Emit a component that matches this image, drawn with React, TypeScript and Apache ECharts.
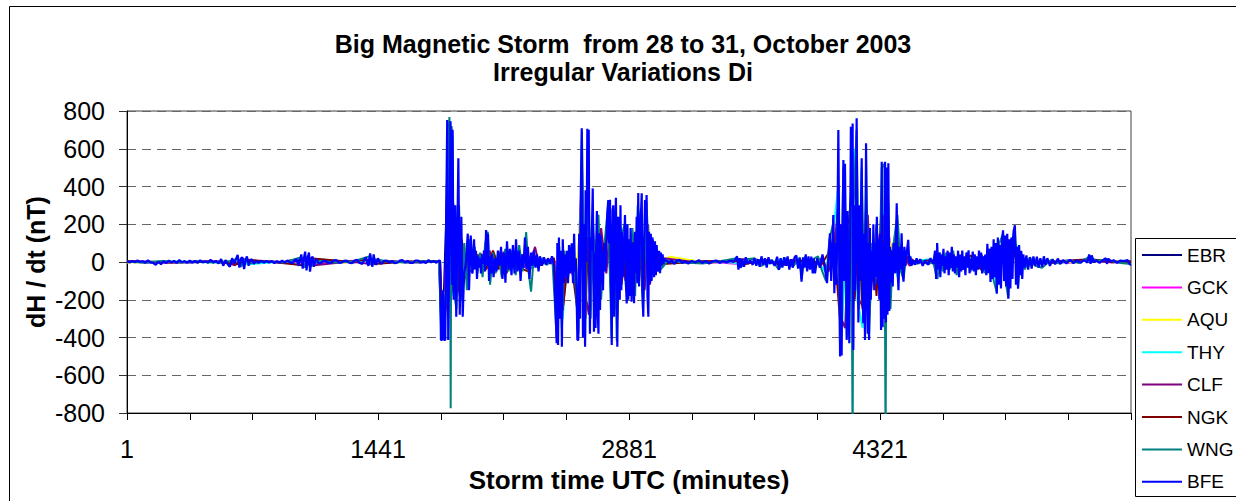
import React, { useEffect, useRef } from "react";
import * as echarts from "echarts";

// ---------- data ----------
const titleLines = ["Big Magnetic Storm  from 28 to 31, October 2003", "Irregular Variations Di"];
const yAxisTitle = "dH / dt (nT)";
const xAxisTitle = "Storm time UTC (minutes)";
const stations = ["EBR", "GCK", "AQU", "THY", "CLF", "NGK", "WNG", "BFE"];
const stationColors = ["#000080", "#FF00FF", "#FFFF00", "#00FFFF", "#800080", "#800000", "#008080", "#0000FF"];
const xTickLabels = [1, 1441, 2881, 4321]; // minute numbers shown on the x axis
const yMin = -800;
const yMax = 800;
const yStep = 200;
const xSpan = 5760; // minutes (0-based index = minute - 1)
const xTickStep = 360;

// [minute index, dH/dt in nT]
const ebr: [number, number][] = [[0,2],[120,-3],[240,4],[360,-2],[480,3],[600,-4],[640,12],[660,-10],[680,8],[720,-2],[840,3],[960,-2],[1020,20],[1035,-18],[1050,15],[1070,-8],[1180,2],[1300,-3],[1395,15],[1410,-8],[1430,6],[1550,2],[1680,-2],[1790,3],
  [1802,-300],[1815,-250],[1830,200],[1840,600],[1850,-200],[1858,500],[1870,-100],[1885,200],[1900,-150],[1915,150],[1930,-120],[1950,60],[1970,-50],
  [1990,40],[2010,-30],[2030,20],[2050,-40],[2070,60],[2090,-20],[2110,30],[2130,-40],[2150,50],[2170,-50],[2190,40],[2210,-30],[2230,50],[2250,-40],[2270,30],[2290,40],[2310,-50],[2330,20],[2350,-10],[2380,10],[2410,-5],[2440,10],
  [2470,-200],[2490,-150],[2510,40],[2530,-60],[2550,50],[2570,-40],[2590,-200],[2610,400],[2625,-200],[2645,400],[2660,-150],[2680,100],[2700,-120],[2720,60],[2740,-40],[2760,150],[2780,-200],[2800,120],[2815,-200],[2830,100],[2850,-60],[2870,-100],[2890,80],[2910,-100],[2930,150],[2950,120],[2965,-150],[2980,150],[3000,-60],[3020,40],[3040,-30],[3060,20],[3080,-5],
  [3120,3],[3240,-2],[3360,4],[3480,-3],[3520,-15],[3560,10],[3620,-8],[3680,12],[3740,-15],[3800,-15],[3860,10],[3900,-20],[3940,5],
  [3960,-10],[3990,15],[4020,-40],[4040,60],[4060,-60],[4080,300],[4092,-300],[4110,250],[4130,-200],[4150,300],[4165,-250],[4185,350],[4200,-150],[4215,250],[4235,-200],[4250,200],[4265,-100],[4285,80],[4300,-60],[4320,60],[4330,250],[4340,-150],[4350,250],[4365,-150],[4380,30],[4400,-40],[4418,120],[4440,-20],[4460,20],[4480,-5],
  [4520,5],[4570,-5],[4620,3],
  [4640,-30],[4660,25],[4680,-30],[4700,30],[4720,-25],[4740,35],[4760,-30],[4780,20],[4800,-25],[4820,25],[4840,-30],[4860,20],[4880,-20],[4900,25],[4920,-30],[4940,40],[4960,-40],[4980,50],[4995,-80],[5010,50],[5030,80],[5050,-90],[5070,60],[5090,90],[5110,-60],[5130,30],[5150,-15],
  [5200,8],[5260,-8],[5340,5],[5430,-3],[5520,15],[5540,2],[5620,8],[5700,2],[5760,-5]];

const gck: [number, number][] = [[0,2],[200,-3],[400,3],[600,-2],[650,10],[670,-8],[800,2],[1000,-5],[1030,15],[1050,-12],[1200,3],[1400,10],[1420,-6],[1600,2],[1790,0],
  [1805,-250],[1825,-200],[1840,450],[1855,-150],[1870,300],[1890,-120],[1910,100],[1935,-80],[1960,50],[1985,-30],
  [2010,30],[2040,-40],[2070,50],[2100,-30],[2130,40],[2160,-50],[2190,30],[2220,-20],[2250,40],[2280,-30],[2310,30],[2340,-20],[2380,10],[2420,-5],[2455,5],
  [2470,-150],[2495,-200],[2520,30],[2550,-40],[2580,-150],[2605,350],[2625,-150],[2645,300],[2665,-100],[2690,80],[2715,-100],[2740,60],[2765,200],[2785,-150],[2805,150],[2820,-180],[2845,60],[2870,-80],[2895,60],[2920,-70],[2935,200],[2960,-120],[2980,200],[3005,-60],[3030,40],[3060,-20],[3085,5],
  [3200,2],[3400,-3],[3530,-12],[3600,8],[3700,-5],[3760,10],[3850,-10],[3900,15],[3945,-5],
  [3980,15],[4020,-50],[4050,80],[4082,250],[4095,-250],[4120,200],[4140,-150],[4160,250],[4180,-120],[4195,200],[4220,-150],[4245,250],[4270,-80],[4300,50],[4330,200],[4345,-150],[4370,150],[4400,-30],[4430,40],[4470,-10],[4510,5],
  [4600,-5],[4650,20],[4700,-25],[4750,20],[4800,-20],[4850,25],[4900,-25],[4950,30],[4990,-60],[5030,60],[5060,-80],[5095,80],[5120,-40],[5150,10],
  [5250,5],[5400,-4],[5525,12],[5600,3],[5700,-3],[5760,0]];

const aqu: [number, number][] = [[0,-2],[250,3],[500,-3],[640,10],[680,-12],[850,2],[1020,-15],[1045,20],[1250,-3],[1400,12],[1425,-8],[1650,3],[1792,-1],
  [1808,-200],[1830,-150],[1846,350],[1862,-100],[1880,250],[1900,-120],[1920,-51],[1945,80],[1970,-40],
  [2000,25],[2035,-30],[2065,45],[2095,-25],[2125,35],[2155,-45],[2185,30],[2215,-25],[2245,35],[2275,-20],[2305,25],[2340,-15],[2390,8],[2440,-5],
  [2468,-120],[2490,-180],[2515,20],[2545,-30],[2575,-100],[2606,300],[2628,-180],[2648,250],[2668,-80],[2695,60],[2720,-80],[2750,50],[2770,150],[2790,-120],[2810,120],[2830,-150],[2855,50],[2880,-60],[2905,40],[2930,150],[2955,-100],[2975,180],[3000,-50],[3030,30],[3060,-15],[3080,10],[3115,28],
  [3300,0],[3450,3],[3540,-10],[3650,6],[3780,-8],[3880,12],[3950,5],
  [3990,10],[4030,-40],[4060,60],[4085,200],[4097,-200],[4118,150],[4137,70],[4160,300],[4186,-7],[4210,150],[4235,-120],[4255,180],[4280,-60],[4310,40],[4332,180],[4350,-120],[4372,120],[4405,-25],[4440,30],[4480,-8],[4520,4],
  [4620,-4],[4680,18],[4740,-20],[4800,15],[4860,-20],[4920,20],[4970,-40],[5000,-60],[5035,50],[5065,-60],[5090,80],[5125,-30],[5160,8],
  [5300,5],[5450,-3],[5525,10],[5640,4],[5760,2]];

const thy: [number, number][] = [[0,0],[300,3],[560,-4],[660,15],[690,-12],[900,2],[1010,-20],[1055,18],[1300,-2],[1410,15],[1500,-3],[1700,2],[1794,3],
  [1812,-320],[1835,-120],[1850,550],[1866,-180],[1885,220],[1905,-160],[1925,90],[1950,-60],[1975,40],
  [2005,-20],[2040,40],[2075,-35],[2105,45],[2140,-30],[2175,50],[2205,-40],[2235,30],[2265,-30],[2295,35],[2325,-25],[2360,15],[2400,-10],[2450,5],
  [2475,-250],[2500,-300],[2525,50],[2560,-60],[2585,-200],[2612,450],[2630,-250],[2642,500],[2660,-120],[2685,90],[2712,-150],[2735,80],[2770,250],[2782,-250],[2805,200],[2815,-250],[2840,80],[2865,-150],[2890,100],[2912,-120],[2935,250],[2960,-200],[2978,260],[3005,-70],[3035,50],[3060,-30],[3090,0],
  [3250,3],[3480,-2],[3510,-15],[3580,10],[3690,-8],[3750,15],[3850,-12],[3920,10],[3945,0],
  [3975,-15],[4015,-60],[4045,100],[4080,400],[4100,-400],[4125,100],[4145,30],[4160,400],[4170,600],[4190,-200],[4220,-350],[4240,400],[4258,-300],[4285,120],[4310,-100],[4330,25],[4348,350],[4360,420],[4375,-150],[4400,50],[4420,-80],[4450,60],[4490,-10],[4540,5],
  [4600,15],[4650,-30],[4710,30],[4770,-40],[4830,30],[4890,-35],[4950,40],[4990,-120],[5020,100],[5056,-150],[5085,100],[5100,100],[5130,-40],[5160,10],
  [5300,-3],[5400,5],[5525,12],[5650,3],[5760,-5]];

const clf: [number, number][] = [[0,5],[280,-3],[540,4],[620,-18],[650,12],[880,-2],[1030,25],[1048,-20],[1280,2],[1400,-10],[1415,8],[1620,-2],[1796,5],
  [1810,-350],[1828,-250],[1856,500],[1872,-160],[1895,-180],[1915,140],[1940,-90],[1960,120],[1985,-40],
  [2015,40],[2045,-50],[2080,60],[2115,-40],[2145,60],[2178,-60],[2210,50],[2240,-30],[2270,40],[2300,-40],[2341,80],[2365,-20],[2405,10],[2445,-10],
  [2472,-300],[2500,-250],[2530,40],[2565,-50],[2595,-250],[2608,300],[2635,-200],[2650,-280],[2675,150],[2700,-120],[2720,180],[2750,-60],[2773,200],[2800,-250],[2820,150],[2838,-120],[2860,100],[2880,-150],[2900,150],[2925,-100],[2945,180],[2970,-150],[2990,200],[3000,-120],[3025,50],[3050,-40],[3080,20],
  [3300,-5],[3460,4],[3515,15],[3600,15],[3720,-10],[3820,12],[3950,-10],
  [3985,20],[4025,-50],[4060,80],[4080,300],[4098,-300],[4120,-350],[4140,150],[4180,420],[4200,-200],[4230,-250],[4250,250],[4270,-150],[4300,200],[4325,-120],[4343,250],[4370,-200],[4390,60],[4415,120],[4450,50],[4490,-20],[4530,5],
  [4600,-10],[4660,30],[4720,-35],[4780,30],[4840,-35],[4900,40],[4960,-50],[5000,80],[5030,90],[5060,-120],[5090,100],[5115,-60],[5145,15],[5200,-10],
  [5350,5],[5525,15],[5650,-3],[5760,5]];

const ngk: [number, number][] = [[0,3],[240,-2],[480,3],[645,-12],[665,15],[860,-3],[1025,-18],[1050,20],[1260,3],[1395,12],[1420,-10],[1600,2],[1796,2],
  [1806,-300],[1825,-300],[1840,200],[1847,125],[1852,-130],[1865,350],[1880,250],[1900,-160],[1920,120],[1950,-100],[1975,60],
  [2000,-30],[2030,45],[2060,-40],[2100,60],[2135,-35],[2165,55],[2200,-40],[2230,45],[2265,-35],[2300,-50],[2330,30],[2370,-15],[2420,10],[2450,20],
  [2470,-280],[2500,-250],[2535,40],[2560,-80],[2590,-300],[2610,350],[2630,-300],[2645,134],[2655,-200],[2680,120],[2700,-200],[2730,80],[2765,150],[2783,-300],[2800,200],[2812,-300],[2835,120],[2860,-100],[2885,120],[2900,-180],[2932,200],[2960,-180],[2975,200],[3000,100],[3030,-40],[3060,30],[3080,-10],
  [3300,4],[3500,5],[3540,-12],[3660,10],[3760,-12],[3880,8],[3950,0],
  [3980,-20],[4020,40],[4055,120],[4090,-300],[4112,300],[4140,200],[4163,445],[4175,-200],[4195,200],[4220,-250],[4240,300],[4258,-250],[4280,80],[4300,-180],[4330,300],[4345,-200],[4360,250],[4378,-100],[4415,150],[4450,-40],[4480,30],[4530,-5],
  [4600,10],[4660,-30],[4720,35],[4780,-30],[4840,35],[4900,-40],[4960,50],[5000,-80],[5030,100],[5056,-120],[5100,90],[5120,-60],[5150,10],
  [5300,-5],[5525,15],[5650,3],[5760,0]];

const wng: [number, number][] = [[0,3],[100,-4],[200,5],[300,-3],[400,4],[500,-2],[600,5],[635,20],[655,-25],[675,15],[700,-8],[800,3],[900,-3],[1000,25],[1020,-30],[1040,35],[1060,-20],[1100,5],[1200,-3],[1300,4],[1390,30],[1405,-20],[1420,15],[1500,3],[1600,-2],[1700,4],[1790,2],
  [1803,-380],[1815,-300],[1830,-200],[1845,700],[1850,768],[1853,300],[1857,-775],[1862,720],[1868,650],[1874,-150],[1890,-250],[1905,300],[1920,-200],[1935,100],[1950,-150],[1965,120],[1980,-60],
  [1995,80],[2010,-60],[2025,50],[2040,-80],[2055,100],[2070,160],[2083,-120],[2100,50],[2115,-60],[2130,40],[2150,-80],[2170,70],[2190,-50],[2210,60],[2230,-70],[2250,90],[2270,-50],[2290,158],[2305,-60],[2318,-157],[2335,40],[2355,-30],[2380,20],[2410,-15],[2440,20],
  [2465,-400],[2480,80],[2495,-350],[2510,60],[2530,-90],[2550,80],[2570,-60],[2590,-380],[2610,690],[2628,-420],[2645,660],[2660,-300],[2675,200],[2690,-250],[2705,250],[2720,-200],[2740,100],[2760,300],[2780,-400],[2795,250],[2810,-420],[2825,200],[2840,150],[2855,200],[2870,-200],[2885,-150],[2900,180],[2915,-180],[2930,300],[2945,200],[2960,-250],[2980,320],[3000,-100],[3020,80],[3040,50],[3060,-40],[3080,-20],
  [3100,5],[3200,-3],[3300,-8],[3400,4],[3500,20],[3520,-30],[3560,15],[3600,20],[3640,-20],[3700,10],[3740,-40],[3780,20],[3820,-25],[3860,25],[3870,-90],[3890,30],[3920,-35],[3945,20],
  [3965,30],[3985,-40],[4010,-100],[4030,120],[4050,200],[4065,-120],[4081,350],[4091,-480],[4110,500],[4130,-400],[4145,150],[4155,440],[4163,-1000],[4167,300],[4186,700],[4200,-250],[4215,500],[4234,-380],[4240,550],[4257,-400],[4275,100],[4290,-120],[4300,200],[4315,-150],[4330,500],[4345,520],[4352,-1000],[4358,480],[4368,300],[4380,-250],[4395,80],[4420,250],[4440,-50],[4455,-90],[4475,60],[4500,10],
  [4530,-10],[4560,8],[4600,-10],[4625,5],
  [4640,-60],[4650,-90],[4665,50],[4680,-50],[4700,50],[4720,-40],[4740,60],[4760,-70],[4780,30],[4800,-40],[4820,50],[4840,-50],[4860,40],[4880,-40],[4900,45],[4915,-50],[4930,-60],[4950,70],[4970,-90],[4990,-160],[5005,100],[5026,150],[5040,-100],[5056,-190],[5075,110],[5094,170],[5112,-130],[5130,50],[5150,-40],
  [5180,25],[5210,-20],[5250,-30],[5300,10],[5350,-8],[5400,10],[5460,-5],[5525,30],[5560,5],[5620,15],[5650,5],[5700,-5],[5760,-10]];

const bfe: [number, number][] = [
  [0,5],[15,-3],[30,6],[45,-2],[60,8],[75,0],[90,4],[105,-4],[120,9],[135,-2],[150,-5],[165,-15],[180,2],[195,-12],[210,4],[225,-6],[240,8],[255,-3],[270,6],[285,-5],[300,10],[315,-2],[330,5],[345,-4],[360,7],[375,-3],[390,6],[405,-5],[420,9],[435,-2],[450,4],[465,-4],[480,12],[495,-3],[510,6],[525,-8],[540,15],[552,-20],[565,10],[578,-12],[590,-25],[603,20],[615,-10],[625,15],[635,37],[645,-30],[655,20],[662,25],[672,-37],[680,10],[688,30],[698,-20],[706,8],[715,15],[728,-10],[740,6],[755,-5],[770,8],[785,-4],[800,6],[815,-3],[830,5],[845,-6],[860,4],[875,-3],[890,7],[905,-4],[920,8],[935,-2],[950,-6],[962,8],[972,15],[985,-20],[993,10],[1000,40],[1008,-35],[1015,20],[1022,55],[1030,-45],[1037,20],[1044,50],[1050,-51],[1058,10],[1064,30],[1072,-25],[1080,8],[1088,15],[1098,-5],[1110,-8],[1125,5],[1140,6],[1155,-4],[1170,-5],[1185,7],[1200,10],[1215,-3],[1230,-3],[1245,6],[1260,8],[1275,-4],[1290,-6],[1305,7],[1320,12],[1335,-5],[1350,-10],[1360,10],[1370,25],[1378,-5],[1385,-20],[1395,45],[1402,5],[1408,-25],[1415,40],[1422,0],[1428,-15],[1440,20],[1450,-3],[1460,-10],[1475,6],[1490,8],[1505,-4],[1520,5],[1535,-6],[1550,-4],[1565,7],[1580,10],[1595,-3],[1610,6],[1625,-5],[1640,-5],[1655,8],[1670,8],[1685,-3],[1700,3],[1715,-5],[1730,10],[1745,-2],[1760,5],[1775,-4],[1790,8],
  [1796,5],[1801,-413],[1808,-413],[1813,-150],[1819,-413],[1826,-413],[1832,300],[1837,752],[1843,-413],[1850,130],[1856,745],[1864,-120],[1868,700],[1874,-200],[1883,300],[1889,-290],[1901,550],[1909,-280],[1918,240],[1926,-290],[1934,-60],[1943,-20],[1955,150],[1962,-150],[1972,140],[1982,-60],
  [1991,120],[1997,-40],[2002,60],[2008,-90],[2014,30],[2019,-30],[2025,20],[2031,-60],[2037,40],[2042,-10],[2048,60],[2054,-50],[2060,170],[2065,-20],[2071,150],[2077,-100],[2083,30],[2088,-60],[2094,40],[2103,-80],[2111,20],[2120,-50],[2128,60],[2137,-20],[2146,80],[2154,-90],[2163,50],[2171,-110],[2180,110],[2189,-40],[2197,70],[2206,-70],[2214,90],[2223,-60],[2232,120],[2240,-50],[2249,60],[2258,-100],[2266,40],[2275,-30],[2283,130],[2292,-40],[2300,80],[2309,-90],[2318,50],[2326,-20],[2335,60],[2343,-30],[2352,40],[2361,-50],[2369,30],[2381,-20],[2392,25],[2404,-15],[2415,20],[2427,-10],[2438,30],[2450,-20],
  [2465,-430],[2469,100],[2473,-440],[2478,130],[2484,-300],[2490,60],[2495,-449],[2500,120],[2507,-113],[2513,40],[2519,-80],[2525,60],[2530,-113],[2536,90],[2542,-60],[2551,99],[2559,-113],[2565,150],[2570,-50],[2575,20],[2579,-150],[2584,-413],[2589,-413],[2594,150],[2599,-300],[2604,390],[2609,708],[2613,100],[2616,-400],[2622,200],[2628,-449],[2631,380],[2636,0],[2641,706],[2645,300],[2649,700],[2653,-100],[2656,-380],[2661,130],[2665,60],[2672,390],[2676,0],[2679,-369],[2684,50],[2688,-350],[2692,100],[2696,270],[2700,-254],[2705,-380],[2709,152],[2714,-254],[2718,140],[2722,-113],[2727,50],[2731,-150],[2735,80],[2739,100],[2744,-50],[2748,0],[2755,250],[2761,328],[2766,100],[2771,330],[2776,-100],[2781,-440],[2786,275],[2790,300],[2795,-290],[2800,150],[2805,340],[2809,0],[2813,-449],[2818,240],[2823,152],[2827,-200],[2831,300],[2836,-150],[2840,160],[2844,-80],[2848,30],[2853,120],[2857,249],[2862,-110],[2867,-220],[2871,200],[2876,-200],[2880,120],[2885,-180],[2889,180],[2895,-210],[2900,100],[2905,99],[2909,-219],[2914,160],[2919,-60],[2924,240],[2928,-113],[2933,365],[2938,-130],[2943,150],[2948,240],[2953,364],[2957,-150],[2962,-290],[2967,100],[2972,328],[2976,200],[2981,355],[2986,-180],[2991,-290],[2995,160],[3000,-113],[3005,150],[3010,-100],[3014,130],[3019,99],[3024,-80],[3029,110],[3034,-70],[3039,90],[3044,-40],[3048,-50],[3053,60],[3058,-60],[3063,50],[3068,-20],[3073,40],[3077,-10],[3082,20],[3086,5],
  [3095,10],[3110,-5],[3125,8],[3140,-10],[3155,5],[3170,12],[3185,-6],[3200,4],[3220,-8],[3240,6],[3260,-3],[3280,10],[3300,-5],[3320,6],[3340,-8],[3360,4],[3380,8],[3400,-5],[3420,6],[3440,-3],[3460,8],[3480,0],[3500,30],[3508,-40],[3515,20],[3522,-30],[3530,15],[3540,-25],[3550,25],[3560,-10],[3575,8],[3590,-15],[3600,20],[3610,-20],[3620,15],[3630,-25],[3640,30],[3650,-15],[3660,20],[3670,-30],[3680,25],[3690,-10],[3700,10],[3715,-20],[3730,28],[3740,-42],[3750,20],[3760,-30],[3770,25],[3780,-20],[3790,30],[3800,-40],[3810,15],[3820,-30],[3830,25],[3840,35],[3850,-35],[3860,20],[3870,-104],[3878,25],[3886,-30],[3894,40],[3902,-50],[3910,30],[3918,-40],[3926,28],[3934,-60],[3940,20],
  [3947,-60],[3960,20],[3975,-30],[3990,40],[4005,-40],[4016,-112],[4025,30],[4033,152],[4040,-100],[4047,60],[4052,249],[4058,-165],[4064,100],[4070,-120],[4076,200],[4081,699],[4086,100],[4091,-501],[4096,200],[4100,-495],[4105,150],[4110,540],[4114,-100],[4119,520],[4124,100],[4129,-413],[4134,270],[4139,-200],[4144,-431],[4149,150],[4153,716],[4158,300],[4163,734],[4167,-466],[4172,300],[4177,-150],[4181,200],[4186,761],[4191,100],[4196,-320],[4201,300],[4205,-100],[4210,200],[4215,550],[4219,-100],[4224,-325],[4229,150],[4234,-413],[4240,629],[4245,-100],[4250,-380],[4254,100],[4257,-413],[4262,180],[4267,-200],[4272,60],[4277,-100],[4282,200],[4287,-150],[4292,100],[4297,-80],[4302,240],[4307,-120],[4312,120],[4316,-200],[4321,150],[4326,-360],[4330,531],[4335,-345],[4340,100],[4345,-300],[4349,531],[4354,-320],[4358,500],[4363,-280],[4368,523],[4373,-260],[4378,80],[4383,-110],[4388,60],[4393,-130],[4398,100],[4403,20],[4408,-60],[4416,311],[4421,-40],[4426,-150],[4432,80],[4438,-40],[4444,152],[4450,-60],[4455,-104],[4460,80],[4466,-20],[4472,40],[4482,117],[4488,-10],[4494,30],[4500,-20],[4510,10],[4520,-15],[4530,20],[4540,-10],[4550,15],[4565,-20],[4580,10],[4595,-15],[4610,20],[4625,-10],[4636,60],[4642,-90],[4648,100],[4654,-40],[4660,50],[4666,-80],[4672,40],[4678,-20],[4684,70],[4690,-60],[4696,30],[4702,-40],[4708,60],[4714,-70],[4720,50],[4726,-30],[4732,80],[4738,-50],[4744,40],[4750,-60],[4756,30],[4762,-30],[4768,60],[4774,-80],[4780,40],
  [4786,-50],[4792,60],[4798,-40],[4804,30],[4810,-70],[4816,50],[4822,-30],[4828,62],[4834,-60],[4840,20],[4846,-40],[4852,55],[4858,-50],[4864,40],[4870,-70],[4876,30],[4882,-40],[4888,60],[4894,-30],[4900,50],[4906,-60],[4912,30],[4918,-45],[4924,40],[4930,-70],[4936,97],[4942,-60],[4948,70],[4954,-106],[4960,80],[4966,-90],[4972,120],[4978,-80],[4984,100],[4990,-168],[4996,130],[5002,-120],[5008,90],[5014,-140],[5020,110],[5026,168],[5032,-100],[5038,140],[5044,-130],[5050,150],[5056,-195],[5062,120],[5068,-140],[5074,130],[5080,-90],[5086,160],[5094,195],[5100,-120],[5106,80],[5112,-141],[5118,90],[5124,-70],[5130,60],[5136,-90],[5142,40],[5150,-30],[5160,35],[5170,-40],[5180,25],[5190,-35],[5200,30],[5210,-20],[5220,28],[5230,-30],[5240,20],[5250,-25],[5260,30],[5270,-15],[5280,20],[5295,-20],[5310,15],[5325,-12],[5340,18],[5355,-10],[5370,10],[5390,-8],[5410,12],[5430,-6],[5450,8],[5470,-5],[5490,10],[5510,-3],[5520,40],[5528,-10],[5535,35],[5545,0],[5560,8],[5580,-5],[5600,10],[5615,20],[5622,-10],[5630,18],[5645,2],[5660,10],[5680,-4],[5700,8],[5720,5],[5740,10],[5755,-15],[5760,-12]
];

const stationData = [ebr, gck, aqu, thy, clf, ngk, wng, bfe];

const FONT = '"Liberation Sans", Arial, Helvetica, sans-serif';

export default function App() {
  const ref = useRef<HTMLDivElement>(null);
  useEffect(() => {
    if (!ref.current) return;
    const chart = echarts.init(ref.current, undefined, { renderer: "svg" });
    const option: any = {
      animation: false,
      backgroundColor: "#ffffff",
      title: {
        text: titleLines.join("\n"),
        left: 623,
        top: 30,
        textAlign: "center",
        padding: 0,
        textStyle: { fontFamily: FONT, fontSize: 25, fontWeight: "bold", color: "#000", lineHeight: 28 },
      },
      legend: {
        orient: "vertical",
        left: 1142,
        top: 245,
        padding: 0,
        icon: "rect",
        itemWidth: 40,
        itemHeight: 2,
        itemGap: 12.4,
        textStyle: { fontFamily: FONT, fontSize: 19, lineHeight: 20, color: "#000" },
        data: stations,
      },
      grid: {
        left: 127,
        top: 111,
        width: 1004,
        height: 302,
        show: true,
        borderColor: "#404040",
        borderWidth: 1,
        backgroundColor: "transparent",
      },
      xAxis: {
        type: "value",
        min: 0,
        max: xSpan,
        interval: xTickStep,
        name: xAxisTitle,
        nameLocation: "middle",
        nameGap: 54,
        nameTextStyle: { fontFamily: FONT, fontSize: 26, fontWeight: "bold", color: "#000" },
        axisLine: { show: true, onZero: false, lineStyle: { color: "#000", width: 1 } },
        axisTick: { show: true, length: 7, lineStyle: { color: "#000" } },
        axisLabel: {
          margin: 23,
          fontFamily: FONT,
          fontSize: 25,
          color: "#000",
          formatter: (v: number) => (xTickLabels.indexOf(Math.round(v) + 1) >= 0 ? String(Math.round(v) + 1) : ""),
        },
        splitLine: { show: false },
      },
      yAxis: {
        type: "value",
        min: yMin,
        max: yMax,
        interval: yStep,
        axisLine: { show: true, lineStyle: { color: "#000", width: 1 } },
        axisTick: { show: true, length: 8, lineStyle: { color: "#333" } },
        axisLabel: { margin: 22, fontFamily: FONT, fontSize: 25, color: "#000" },
        splitLine: { show: true, lineStyle: { color: "#666", type: [9, 6], width: 1 } },
      },
      graphic: [
        {
          type: "rect",
          silent: true,
          z: 0,
          shape: { x: 9.5, y: 6.5, width: 1300, height: 600 },
          style: { fill: "none", stroke: "#000", lineWidth: 1 },
        },
        {
          type: "rect",
          silent: true,
          z: 0,
          shape: { x: 1135.5, y: 238.5, width: 200, height: 258 },
          style: { fill: "#fff", stroke: "#000", lineWidth: 1 },
        },
        {
          type: "text",
          x: 36,
          y: 262,
          rotation: Math.PI / 2,
          silent: true,
          style: {
            text: yAxisTitle,
            fontFamily: FONT,
            fontSize: 25,
            fontWeight: "bold",
            fill: "#000",
            textAlign: "center",
            textVerticalAlign: "middle",
            align: "center",
            verticalAlign: "middle",
          },
        },
      ],
      series: stationData.map((d, i) => ({
        name: stations[i],
        type: "line",
        data: d,
        symbol: "none",
        showSymbol: false,
        silent: true,
        clip: true,
        lineStyle: { width: i === 7 ? 2.2 : 2, color: stationColors[i] },
        itemStyle: { color: stationColors[i] },
      })),
    };
    chart.setOption(option);
    return () => chart.dispose();
  }, []);
  return (
    <div
      ref={ref}
      style={{ position: "absolute", left: 0, top: 0, width: 1236, height: 501 }}
    />
  );
}
